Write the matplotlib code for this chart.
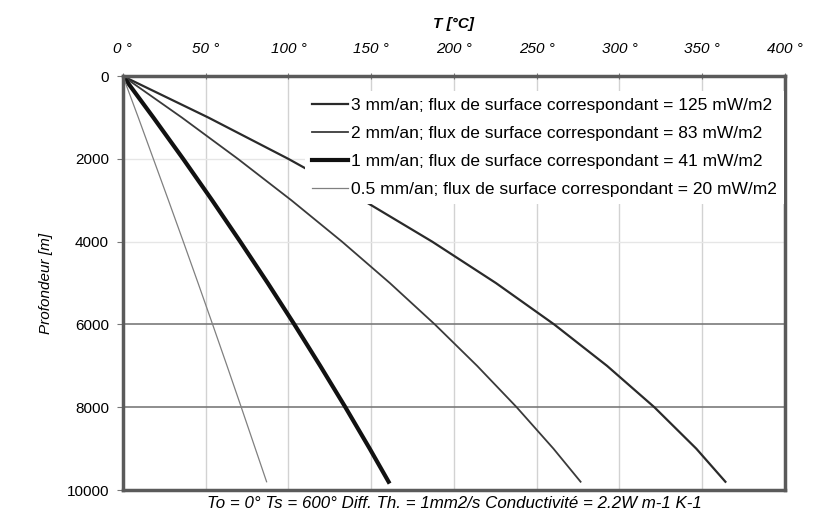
import numpy as np
import matplotlib
matplotlib.use("Agg")
import matplotlib.pyplot as plt

plt.rcParams['font.family'] = ['Liberation Sans', 'DejaVu Sans']

# depths (m) where values were read
depth = [0, 1000, 2000, 3000, 4000, 5000, 6000, 7000, 8000, 9000, 9800]

# temperature (deg C) for each erosion rate
t_3mm = [0, 51.6, 100, 145.1, 186.9, 225.4, 260.6, 292.5, 321.1, 346.4, 364]
t_2mm = [0, 35.6, 69.5, 101.8, 132.4, 161.3, 188.5, 214, 237.9, 260.1, 276.5]
t_1mm = [0, 18.4, 36.4, 53.9, 70.9, 87.5, 103.6, 119.2, 134.4, 149.1, 160.5]
t_05mm = [0, 9.3, 18.4, 27.5, 36.5, 45.4, 54.2, 62.9, 71.5, 80, 86.8]

labels = [
    "3 mm/an; flux de surface correspondant = 125 mW/m2",
    "2 mm/an; flux de surface correspondant = 83 mW/m2",
    "1 mm/an; flux de surface correspondant = 41 mW/m2",
    "0.5 mm/an; flux de surface correspondant = 20 mW/m2",
]

x_ticks = [0, 50, 100, 150, 200, 250, 300, 350, 400]
y_ticks = [0, 2000, 4000, 6000, 8000, 10000]

fig = plt.figure(figsize=(8.25, 5.18), dpi=100)
ax = fig.add_axes([0.149, 0.054, 0.8025, 0.799])

ax.plot(t_3mm, depth, color="#2a2a2a", lw=1.6, label=labels[0])
ax.plot(t_2mm, depth, color="#3a3a3a", lw=1.3, label=labels[1])
ax.plot(t_1mm, depth, color="#111111", lw=3.0, label=labels[2])
ax.plot(t_05mm, depth, color="#808080", lw=0.9, label=labels[3])

ax.set_xlim(0, 400)
ax.set_ylim(10000, 0)
ax.xaxis.tick_top()
ax.xaxis.set_label_position("top")
ax.set_xticks(x_ticks)
ax.set_xticklabels([f"{v} °" for v in x_ticks], fontstyle="italic", fontsize=11)
ax.set_yticks(y_ticks)
ax.set_yticklabels([str(v) for v in y_ticks], fontsize=11)
ax.tick_params(axis="x", direction="inout", length=5, color="#777777", pad=12)
ax.tick_params(axis="y", direction="out", length=4, color="#777777", pad=6)

ax.grid(True, axis="x", color="#d2d2d2", lw=1.0)
ax.grid(True, axis="y", color="#e6e6e6", lw=1.0)
ax.set_axisbelow(True)
ygl = ax.yaxis.get_gridlines()
for i, v in enumerate(y_ticks):
    if v in (6000, 8000):
        ygl[i].set_color("#7a7a7a")
        ygl[i].set_linewidth(1.2)

for s in ax.spines.values():
    s.set_color("#5a5a5a")
    s.set_linewidth(2.5)

ax.set_xlabel("T [°C]", fontstyle="italic", fontweight="bold", fontsize=11, labelpad=10)
ax.set_ylabel("Profondeur [m]", fontstyle="italic", fontsize=11, labelpad=10)

leg = ax.legend(loc="upper left", bbox_to_anchor=(0.262, 0.985), fontsize=12.5,
                frameon=True, facecolor="white", edgecolor="none", framealpha=1,
                handlelength=2.1, handletextpad=0.15, labelspacing=0.74,
                borderpad=0.4, fancybox=False)

fig.text(0.551, 0.028, "To = 0° Ts = 600° Diff. Th. = 1mm2/s Conductivité = 2.2W m-1 K-1",
         ha="center", va="center", fontstyle="italic", fontsize=12.2)

fig.savefig("out.png", dpi=100)
